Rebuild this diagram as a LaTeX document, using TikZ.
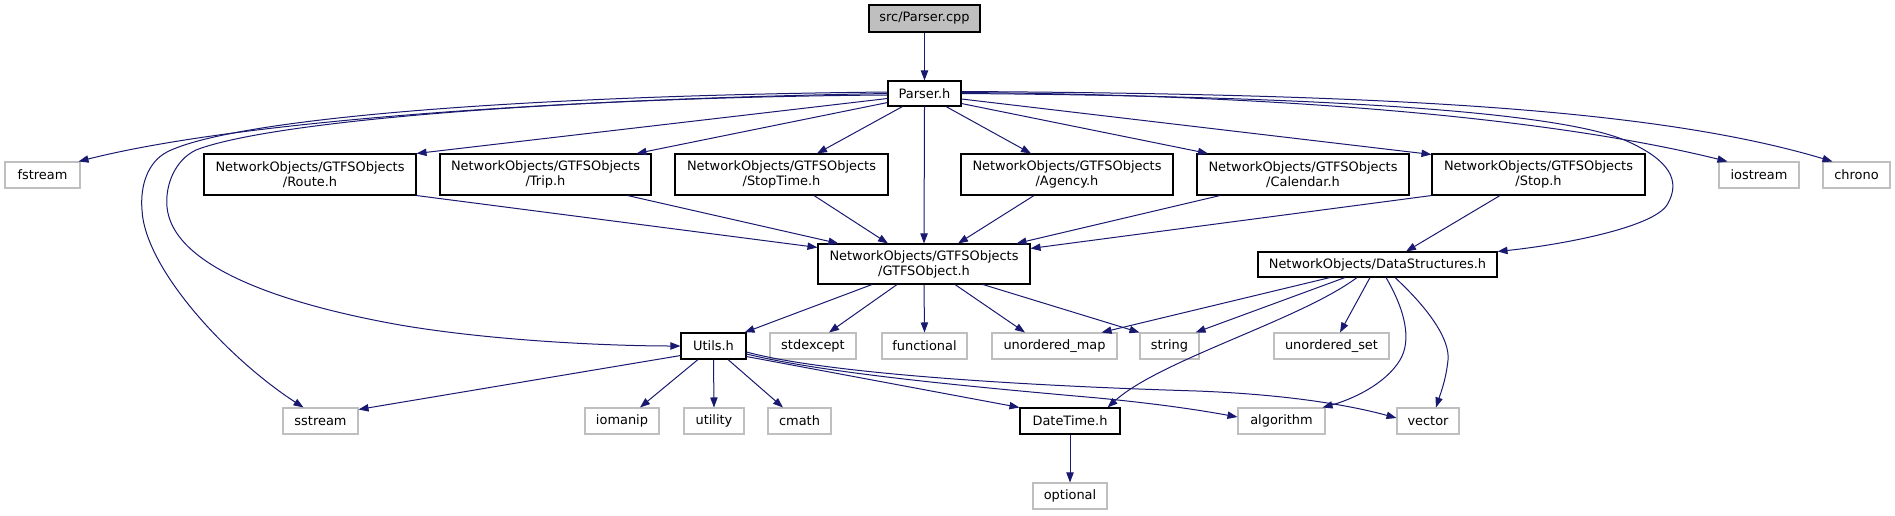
\documentclass[tikz,border=0pt]{standalone}
\usepackage{fontspec}
\setmainfont{DejaVu Sans}
\usetikzlibrary{arrows.meta,calc}
\definecolor{edgec}{HTML}{191970}
\definecolor{grayb}{HTML}{BFBFBF}
\begin{document}
\begin{tikzpicture}[x=0.75pt,y=-0.75pt,
  box/.style={draw=black, line width=0.8pt, inner sep=0pt, align=center, rectangle,
    font=\fontsize{9.7}{11.25}\selectfont},
  gbox/.style={box, draw=grayb},
  sz/.style 2 args={minimum width=#1*0.75pt, minimum height=#2*0.75pt},
  e/.style={draw=edgec, line width=0.75pt, -{Triangle[length=7.5pt,width=5.5pt]}}]
\useasboundingbox (0,0) rectangle (1895,515);
% nodes
\node[box, fill=grayb, sz={111}{27}] (cpp) at (924.5,18.5) {src/Parser.cpp};
\node[box, sz={73}{25}] (parser) at (924.5,93.5) {Parser.h};
\node[gbox, sz={75}{26}] (fstream) at (42.5,175) {fstream};
\node[box, sz={212}{41}] (route) at (310,174.5) {NetworkObjects/GTFSObjects\\/Route.h};
\node[box, sz={211}{41}] (trip) at (545.5,174.5) {NetworkObjects/GTFSObjects\\/Trip.h};
\node[box, sz={213}{41}] (stoptime) at (781.5,174.5) {NetworkObjects/GTFSObjects\\/StopTime.h};
\node[box, sz={212}{41}] (agency) at (1067,174.5) {NetworkObjects/GTFSObjects\\/Agency.h};
\node[box, sz={212}{41}] (calendar) at (1303,174.5) {NetworkObjects/GTFSObjects\\/Calendar.h};
\node[box, sz={213}{41}] (stop) at (1538.5,174.5) {NetworkObjects/GTFSObjects\\/Stop.h};
\node[gbox, sz={80}{26}] (iostream) at (1759,175) {iostream};
\node[gbox, sz={67}{26}] (chrono) at (1856.5,175) {chrono};
\node[box, sz={212}{40}] (gtfsobj) at (924,264) {NetworkObjects/GTFSObjects\\/GTFSObject.h};
\node[box, sz={239}{25}] (ds) at (1377.5,264.5) {NetworkObjects/DataStructures.h};
\node[box, sz={65}{26}] (utils) at (713.5,346) {Utils.h};
\node[gbox, sz={86}{26}] (stdexcept) at (813,346) {stdexcept};
\node[gbox, sz={85}{26}] (functional) at (924.5,346) {functional};
\node[gbox, sz={125}{26}] (umap) at (1054.5,346) {unordered\_map};
\node[gbox, sz={59}{26}] (string) at (1169.5,346) {string};
\node[gbox, sz={115}{26}] (uset) at (1331.5,346) {unordered\_set};
\node[gbox, sz={75}{26}] (sstream) at (320.5,421) {sstream};
\node[gbox, sz={74}{26}] (iomanip) at (622,421) {iomanip};
\node[gbox, sz={60}{26}] (utility) at (714,421) {utility};
\node[gbox, sz={63}{26}] (cmath) at (799.5,421) {cmath};
\node[box, sz={100}{26}] (datetime) at (1070,421) {DateTime.h};
\node[gbox, sz={87}{26}] (algorithm) at (1281.5,421) {algorithm};
\node[gbox, sz={62}{26}] (vector) at (1428,421) {vector};
\node[gbox, sz={74}{26}] (optional) at (1070,496) {optional};
% edges from Parser.cpp / Parser.h
\draw[e] (cpp.south) -- (parser.north);
\draw[e] ($(parser.west)+(0,1.5)$) .. controls (600,97) and (250,118) .. ($(fstream.north east)+(-2,0)$);
\draw[e] ($(parser.west)+(0,-1.5)$) .. controls (500,96) and (230,120) .. (167,152)
   .. controls (148,162) and (140,185) .. (142,210)
   .. controls (145,270) and (230,360) .. ($(sstream.north)+(-17,0)$);
\draw[e] (parser.west) .. controls (500,100) and (260,125) .. (196,150)
   .. controls (175,160) and (165,185) .. (167,207)
   .. controls (172,260) and (260,300) .. (400,325)
   .. controls (500,342) and (620,346) .. (utils.west);
\draw[e] ($(parser.west)+(0,5)$) -- (route.north east);
\draw[e] ($(parser.south west)+(0,-4)$) -- ($(trip.north east)+(-15,0)$);
\draw[e] ($(parser.south west)+(15,0)$) -- ($(stoptime.north)+(35.5,0)$);
\draw[e] (parser.south) -- (gtfsobj.north);
\draw[e] ($(parser.south)+(21.5,0)$) -- ($(agency.north)+(-36,0)$);
\draw[e] ($(parser.south east)+(0,-3)$) -- ($(calendar.north)+(-95,0)$);
\draw[e] ($(parser.east)+(0,5.5)$) -- ($(stop.north west)+(0,1)$);
\draw[e] (parser.east) .. controls (1300,96) and (1560,110) .. (1629,142)
   .. controls (1668,160) and (1682,180) .. (1667,205)
   .. controls (1652,228) and (1560,245) .. (ds.north east);
\draw[e] ($(parser.east)+(0,-1)$) .. controls (1300,95) and (1560,120) .. ($(iostream.north west)+(9,0)$);
\draw[e] ($(parser.east)+(0,-2)$) .. controls (1400,94) and (1660,110) .. ($(chrono.north west)+(10,0)$);
% into GTFSObject.h
\draw[e] (route.south east) -- ($(gtfsobj.north west)+(0,4)$);
\draw[e] ($(trip.south east)+(-24,0)$) -- ($(gtfsobj.north west)+(21,0)$);
\draw[e] ($(stoptime.south)+(32.5,0)$) -- ($(gtfsobj.north)+(-36,0)$);
\draw[e] ($(agency.south)+(-33,0)$) -- ($(gtfsobj.north)+(34,0)$);
\draw[e] ($(calendar.south)+(-83,0)$) -- ($(gtfsobj.north east)+(-14,0)$);
\draw[e] (stop.south west) -- ($(gtfsobj.north east)+(0,5)$);
\draw[e] ($(stop.south)+(-38.5,0)$) -- ($(ds.north)+(28.5,0)$);
% from GTFSObject.h
\draw[e] ($(gtfsobj.south)+(-52,0)$) -- ($(utils.north east)+(-2,0)$);
\draw[e] ($(gtfsobj.south)+(-27,0)$) -- ($(stdexcept.north)+(16,0)$);
\draw[e] (gtfsobj.south) -- (functional.north);
\draw[e] ($(gtfsobj.south)+(31,0)$) -- ($(umap.north)+(-29.5,0)$);
\draw[e] ($(gtfsobj.south)+(59,0)$) -- (string.north west);
% from DataStructures.h
\draw[e] ($(ds.south)+(-47.5,0)$) -- ($(umap.north east)+(-16,0)$);
\draw[e] ($(ds.south)+(-32.5,0)$) -- ($(string.north east)+(-4,0)$);
\draw[e] ($(ds.south)+(-20.5,0)$) .. controls (1300,320) and (1160,360) .. ($(datetime.north east)+(-13,0)$);
\draw[e] ($(ds.south)+(-7.5,0)$) -- ($(uset.north)+(8.5,0)$);
\draw[e] ($(ds.south)+(8.5,0)$) .. controls (1405,310) and (1412,340) .. (1400,360)
   .. controls (1385,385) and (1350,400) .. ($(algorithm.north east)+(-3,0)$);
\draw[e] ($(ds.south)+(17.5,0)$) .. controls (1430,310) and (1450,340) .. (1448,360)
   .. controls (1446,380) and (1440,395) .. ($(vector.north)+(8,0)$);
% from Utils.h
\draw[e] ($(utils.south west)+(0,-4)$) -- ($(sstream.north east)+(0,2)$);
\draw[e] ($(utils.south)+(-15.5,0)$) -- ($(iomanip.north)+(18,0)$);
\draw[e] (utils.south) -- (utility.north);
\draw[e] ($(utils.south)+(14.5,0)$) -- ($(cmath.north)+(-16.5,0)$);
\draw[e] ($(utils.south east)+(0,-3)$) -- (datetime.north west);
\draw[e] ($(utils.east)+(0,8)$) .. controls (820,372) and (950,385) .. (1098,398)
   .. controls (1170,405) and (1210,412) .. ($(algorithm.west)+(0,-4)$);
\draw[e] ($(utils.east)+(0,6)$) .. controls (820,372) and (1000,385) .. (1197,391)
   .. controls (1300,395) and (1360,408) .. ($(vector.west)+(0,-3)$);
% from DateTime.h
\draw[e] (datetime.south) -- (optional.north);
\end{tikzpicture}
\end{document}
